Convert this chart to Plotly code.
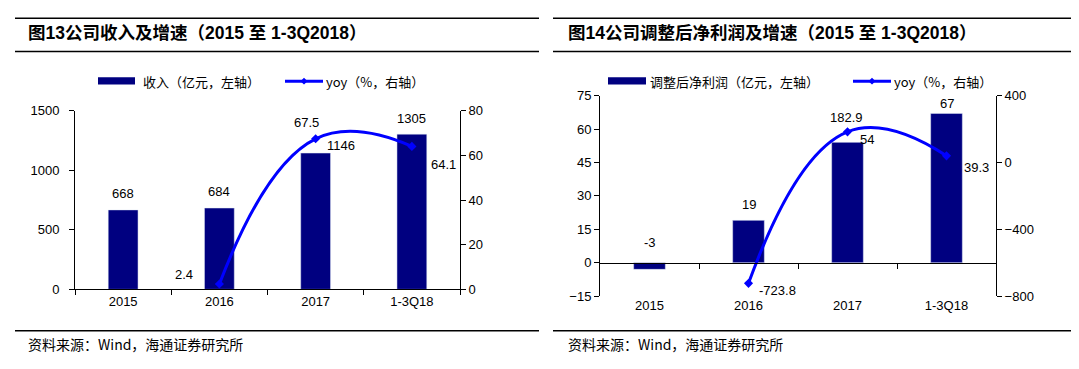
import plotly.graph_objects as go

W, H = 1079, 369

categories = ["2015", "2016", "2017", "1-3Q18"]

revenue = [668, 684, 1146, 1305]
revenue_yoy = [None, 2.4, 67.5, 64.1]

profit = [-3, 19, 54, 67]
profit_yoy = [None, -723.8, 182.9, 39.3]

title_left = "图13公司收入及增速（2015 至 1-3Q2018）"
title_right = "图14公司调整后净利润及增速（2015 至 1-3Q2018）"
legend_bar_left = "收入（亿元，左轴）"
legend_bar_right = "调整后净利润（亿元，左轴）"
legend_line = "yoy（%，右轴）"
source_text = "资料来源：Wind，海通证券研究所"

NAVY = "#000080"
BLUE = "#0000FF"
NUM_FONT = "Liberation Sans, Arial, Noto Sans CJK SC"
CJK_FONT = "Noto Sans CJK SC, Liberation Sans"


def px(x):
    return x / W


def py(y):
    return 1 - y / H


# plot-area domains (pixels)
L_x0, L_x1, L_top, L_bot = 67, 452, 100, 286
R_x0, R_x1, R_top, R_bot = 592, 988, 84, 293

L_y_range = [0, 1500]
L_y2_range = [0, 80]
R_y_range = [-15, 75]
R_y2_range = [-800, 400]
X_RANGE = [-0.5, len(categories) - 0.5]

SMOOTH = 1.3

fig = go.Figure()

fig.add_trace(go.Bar(x=categories, y=revenue, marker_color=NAVY, width=0.31,
                     xaxis="x", yaxis="y", showlegend=False))
fig.add_trace(go.Scatter(x=categories, y=revenue_yoy, mode="lines+markers",
                         line=dict(color=BLUE, width=3, shape="spline", smoothing=SMOOTH),
                         marker=dict(symbol="diamond", size=7, color=BLUE),
                         xaxis="x", yaxis="y2", showlegend=False))

fig.add_trace(go.Bar(x=categories, y=profit, marker_color=NAVY, width=0.32,
                     xaxis="x2", yaxis="y3", showlegend=False))
fig.add_trace(go.Scatter(x=categories, y=profit_yoy, mode="lines+markers",
                         line=dict(color=BLUE, width=3, shape="spline", smoothing=SMOOTH),
                         marker=dict(symbol="diamond", size=7, color=BLUE),
                         xaxis="x2", yaxis="y4", showlegend=False))
# dummy trace for the zero-line axis of the right chart
fig.add_trace(go.Scatter(x=[], y=[], xaxis="x3", yaxis="y3", showlegend=False))

tickfont = dict(family=NUM_FONT, size=13, color="black")

R_dom = [py(R_bot), py(R_top)]
zero_pos = R_dom[0] + (0 - R_y_range[0]) / (R_y_range[1] - R_y_range[0]) * (R_dom[1] - R_dom[0])

fig.update_layout(
    width=W, height=H,
    margin=dict(l=0, r=0, t=0, b=0),
    paper_bgcolor="white", plot_bgcolor="white",
    showlegend=False,
    xaxis=dict(domain=[px(L_x0), px(L_x1)], anchor="y", type="category",
               categoryorder="array", categoryarray=categories, range=X_RANGE,
               tickson="boundaries", ticks="outside", ticklen=5, tickcolor="black",
               showline=True, linecolor="black", linewidth=1,
               showgrid=False, zeroline=False, tickfont=tickfont),
    yaxis=dict(domain=[py(L_bot), py(L_top)], anchor="x", range=L_y_range, dtick=500,
               ticks="outside", ticklen=5, tickcolor="black", ticklabelstandoff=7,
               showline=True, linecolor="black", linewidth=1,
               showgrid=False, zeroline=False, tickfont=tickfont),
    yaxis2=dict(overlaying="y", side="right", anchor="x", range=L_y2_range, dtick=20,
                ticks="outside", ticklen=5, tickcolor="black",
                showline=True, linecolor="black", linewidth=1,
                showgrid=False, zeroline=False, tickfont=tickfont),
    xaxis2=dict(domain=[px(R_x0), px(R_x1)], anchor="y3", type="category",
                categoryorder="array", categoryarray=categories, range=X_RANGE,
                ticks="", showline=False, showgrid=False, zeroline=False,
                tickfont=tickfont),
    xaxis3=dict(overlaying="x2", anchor="free", position=zero_pos,
                range=X_RANGE, tickvals=[0.5, 1.5, 2.5],
                ticks="outside", ticklen=5, tickcolor="black",
                showticklabels=False, showline=True, linecolor="black", linewidth=1,
                showgrid=False, zeroline=False),
    yaxis3=dict(domain=R_dom, anchor="x2", range=R_y_range, dtick=15,
                ticks="outside", ticklen=5, tickcolor="black",
                showline=True, linecolor="black", linewidth=1,
                showgrid=False, zeroline=False, tickfont=tickfont),
    yaxis4=dict(overlaying="y3", side="right", anchor="x2", range=R_y2_range, dtick=400,
                ticks="outside", ticklen=5, tickcolor="black",
                showline=True, linecolor="black", linewidth=1,
                showgrid=False, zeroline=False, tickfont=tickfont),
)

ann = []
lab_font = dict(family=NUM_FONT, size=13, color="black")

# value labels (category index as x; offsets in pixels)
left_bar_off = [(0, 16), (0, 17), (25, 8), (0, 16)]
for i, (v, (dx, dy)) in enumerate(zip(revenue, left_bar_off)):
    ann.append(dict(x=i, y=v, xref="x", yref="y", text=str(v), showarrow=False,
                    xshift=dx, yshift=dy, font=lab_font))
left_line_off = [None, (-35, 10), (-9, 16), (32, -18)]
for i, (v, o) in enumerate(zip(revenue_yoy, left_line_off)):
    if v is None:
        continue
    ann.append(dict(x=i, y=v, xref="x", yref="y2", text=f"{v:.1f}", showarrow=False,
                    xshift=o[0], yshift=o[1], font=lab_font))

right_bar_off = [(0, 27), (0, 16), (19, 3), (0, 10)]
for i, (v, (dx, dy)) in enumerate(zip(profit, right_bar_off)):
    ann.append(dict(x=i, y=v, xref="x2", yref="y3", text=str(v), showarrow=False,
                    xshift=dx, yshift=dy, font=lab_font))
right_line_off = [None, (29, -7), (-1, 14), (30, -12)]
for i, (v, o) in enumerate(zip(profit_yoy, right_line_off)):
    if v is None:
        continue
    ann.append(dict(x=i, y=v, xref="x2", yref="y4", text=f"{v:.1f}", showarrow=False,
                    xshift=o[0], yshift=o[1], font=lab_font))

# titles
title_font = dict(family=NUM_FONT, size=17.5, color="black")
ann.append(dict(x=px(18), y=py(19), xref="paper", yref="paper", text=f"<b>{title_left}</b>",
                showarrow=False, xanchor="left", yanchor="middle", font=title_font))
ann.append(dict(x=px(558), y=py(19), xref="paper", yref="paper", text=f"<b>{title_right}</b>",
                showarrow=False, xanchor="left", yanchor="middle", font=title_font))

# sources
src_font = dict(family=CJK_FONT, size=14, color="black")
for x0 in (18, 558):
    ann.append(dict(x=px(x0), y=py(343), xref="paper", yref="paper", text=source_text,
                    showarrow=False, xanchor="left", yanchor="middle", font=src_font))

# manual legends
leg_font = dict(family=CJK_FONT, size=13, color="black")
shapes = []
legend_specs = [
    (90, 127, 133, legend_bar_left, 277, 315, 316),
    (600, 638, 640, legend_bar_right, 845, 883, 884),
]
for bx0, bx1, btx, btext, lx0, lx1, ltx in legend_specs:
    shapes.append(dict(type="rect", xref="paper", yref="paper",
                       x0=px(bx0), x1=px(bx1), y0=py(72.5), y1=py(65),
                       fillcolor=NAVY, line=dict(width=0)))
    ann.append(dict(x=px(btx), y=py(69), xref="paper", yref="paper", text=btext,
                    showarrow=False, xanchor="left", yanchor="middle", font=leg_font))
    shapes.append(dict(type="line", xref="paper", yref="paper",
                       x0=px(lx0), x1=px(lx1), y0=py(69), y1=py(69),
                       line=dict(color=BLUE, width=3)))
    mx = (lx0 + lx1) / 2
    shapes.append(dict(type="path", xref="paper", yref="paper",
                       path=f"M {px(mx-3.5)},{py(69)} L {px(mx)},{py(65.5)} L {px(mx+3.5)},{py(69)} L {px(mx)},{py(72.5)} Z",
                       fillcolor=BLUE, line=dict(width=0)))
    ann.append(dict(x=px(ltx), y=py(69), xref="paper", yref="paper", text=legend_line,
                    showarrow=False, xanchor="left", yanchor="middle", font=leg_font))

# separator rules
for x0, x1 in ((7, 531), (545, 1070)):
    for yy in (3.5, 38, 329):
        shapes.append(dict(type="line", xref="paper", yref="paper",
                           x0=px(x0), x1=px(x1), y0=py(yy), y1=py(yy),
                           line=dict(color="black", width=1.5)))

fig.update_layout(annotations=ann, shapes=shapes)

fig.write_html("out.html")
